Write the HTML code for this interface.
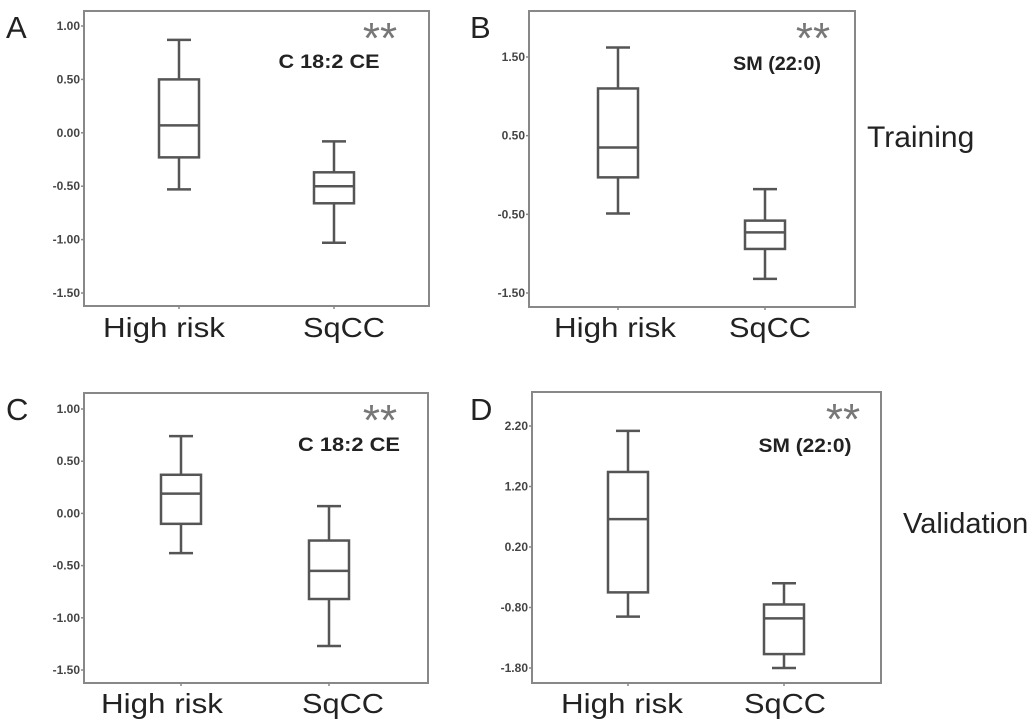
<!DOCTYPE html>
<html><head><meta charset="utf-8"><style>
body{margin:0;background:#fff;}
svg{display:block;font-family:"Liberation Sans",Arial,sans-serif;}
</style></head><body>
<svg id="fig" width="1033" height="727" viewBox="0 0 1033 727"></svg>
<script>
const categories = ["High risk", "SqCC"];
// [whiskerLow, Q1, median, Q3, whiskerHigh]
const panelAHigh = [-0.53, -0.23, 0.07, 0.50, 0.87];
const panelASq = [-1.03, -0.66, -0.50, -0.37, -0.08];
const panelBHigh = [-0.49, -0.03, 0.35, 1.10, 1.62];
const panelBSq = [-1.32, -0.94, -0.73, -0.58, -0.18];
const panelCHigh = [-0.38, -0.10, 0.19, 0.37, 0.74];
const panelCSq = [-1.27, -0.82, -0.55, -0.26, 0.07];
const panelDHigh = [-0.95, -0.55, 0.66, 1.44, 2.12];
const panelDSq = [-1.80, -1.57, -0.98, -0.75, -0.40];
const ticksAC = [1.00, 0.50, 0.00, -0.50, -1.00, -1.50];
const ticksB = [1.50, 0.50, -0.50, -1.50];
const ticksD = [2.20, 1.20, 0.20, -0.80, -1.80];
const titles = ["C 18:2 CE", "SM (22:0)", "C 18:2 CE", "SM (22:0)"];

const NS = "http://www.w3.org/2000/svg";
const svg = document.getElementById("fig");
function mk(tag, attrs, parent, text){
  const e = document.createElementNS(NS, tag);
  for (const k in attrs) e.setAttribute(k, attrs[k]);
  if (text !== undefined) e.textContent = text;
  (parent || svg).appendChild(e);
  return e;
}
const labW = [122, 82];
const panels = [
  {id:"a", letter:"A", lx:6, ly:38, f:[84,11,429,306], v0:1.00, p0:26, v1:-1.50, p1:293, ticks:ticksAC, data:[panelAHigh,panelASq], cx:[179,334], lc:[164,344], title:titles[0], tx:329, ty:68, tw:101, sx:380, sy:53, labY:337},
  {id:"b", letter:"B", lx:470, ly:38, f:[529,11,855,307], v0:1.50, p0:57, v1:-1.50, p1:293, ticks:ticksB, data:[panelBHigh,panelBSq], cx:[618,765], lc:[615,770], title:titles[1], tx:777, ty:70, tw:88, sx:813, sy:53, labY:337},
  {id:"c", letter:"C", lx:6, ly:420, f:[84,393,428,683], v0:1.00, p0:409, v1:-1.50, p1:670, ticks:ticksAC, data:[panelCHigh,panelCSq], cx:[181,329], lc:[162,343], title:titles[2], tx:349, ty:451, tw:102, sx:380, sy:435, labY:713},
  {id:"d", letter:"D", lx:470, ly:420, f:[532,392,881,683], v0:2.20, p0:426, v1:-1.80, p1:668, ticks:ticksD, data:[panelDHigh,panelDSq], cx:[628,784], lc:[622,785], title:titles[3], tx:805, ty:452, tw:93, sx:843, sy:434, labY:713}
];
panels.forEach(P=>{
  const g = mk("g", {});
  
  
  const y = v => P.p0 + (v - P.v0) * (P.p1 - P.p0) / (P.v1 - P.v0);
  const L = mk("text", {x:P.lx, y:P.ly, "font-size":31, fill:"#222"}, g, P.letter);
  
  
  const [x0,y0,x1,y1] = P.f;
  const fr = mk("rect", {x:x0, y:y0, width:x1-x0, height:y1-y0, fill:"none", stroke:"#888", "stroke-width":2}, g);
  
  
  P.ticks.forEach(t=>{
    const ty = y(t);
    mk("line", {x1:x0-3, x2:x0, y1:ty, y2:ty, stroke:"#888", "stroke-width":1.5}, g);
    const tl = mk("text", {x:x0-4, y:ty+4, "font-size":12, "font-weight":"bold", fill:"#444", "text-anchor":"end"}, g, t.toFixed(2));
    
    
  });
  P.data.forEach((d,i)=>{
    const cx = P.cx[i], hw = 20, cw = 12;
    const bg = mk("g", {stroke:"#555", "stroke-width":2.5, fill:"none"}, g);
    
    
    mk("line", {x1:cx, x2:cx, y1:y(d[4]), y2:y(d[3])}, bg);
    mk("line", {x1:cx, x2:cx, y1:y(d[1]), y2:y(d[0])}, bg);
    mk("line", {x1:cx-cw, x2:cx+cw, y1:y(d[4]), y2:y(d[4])}, bg);
    mk("line", {x1:cx-cw, x2:cx+cw, y1:y(d[0]), y2:y(d[0])}, bg);
    mk("rect", {x:cx-hw, y:y(d[3]), width:2*hw, height:y(d[1])-y(d[3]), fill:"#fff"}, bg);
    mk("line", {x1:cx-hw, x2:cx+hw, y1:y(d[2]), y2:y(d[2])}, bg);
    mk("line", {x1:cx, x2:cx, y1:y1, y2:y1+3, stroke:"#888", "stroke-width":1.5}, g);
    const xl = mk("text", {x:P.lc[i]-labW[i]/2, y:P.labY, "font-size":28, fill:"#222", textLength:labW[i], lengthAdjust:"spacingAndGlyphs"}, g, categories[i]);
    
    
  });
  const tt = mk("text", {x:P.tx-P.tw/2, y:P.ty, "font-size":19, "font-weight":"bold", fill:"#222", textLength:P.tw, lengthAdjust:"spacingAndGlyphs"}, g, P.title);
  
  
  const st = mk("text", {x:P.sx, y:P.sy, "font-size":44, fill:"#777", "text-anchor":"middle"}, g, "**");
  
  
});
const tr = mk("text", {x:867, y:147, "font-size":30, fill:"#222"}, svg, "Training");


const va = mk("text", {x:903, y:533, "font-size":29, fill:"#222"}, svg, "Validation");


</script>
</body></html>
